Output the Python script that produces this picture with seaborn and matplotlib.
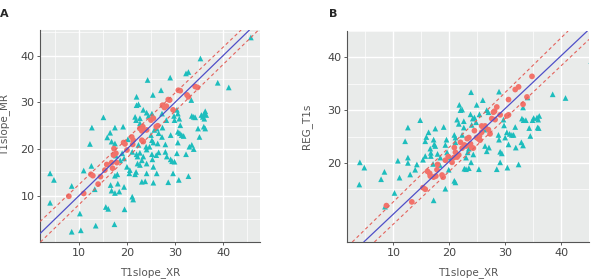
import pandas as pd
import numpy as np
import seaborn as sns
import matplotlib.pyplot as plt

# ---- panel A : T1slope_MR vs T1slope_XR ----
a_out_x = [4.0, 4.8, 4.0, 8.5, 8.5, 10.4, 10.2, 11.0, 12.3, 12.6, 12.7, 13.5, 13.3, 15.1, 15.6, 16.1,
           15.9, 16.5, 17.5, 16.8, 17.5, 16.6, 16.8, 17.5, 18.4, 18.1, 17.5, 18.0, 17.4, 17.7, 18.6,
           19.0, 19.4, 19.2, 19.4, 19.5, 20.2, 20.0, 20.6, 20.5, 21.1, 21.1, 21.3, 21.7, 21.9, 21.7,
           21.9, 22.0, 22.0, 22.4, 22.7, 22.7, 22.4, 22.0, 22.7, 22.2, 22.2, 22.7, 23.1, 23.4, 23.1,
           23.8, 24.1, 24.1, 24.1, 24.0, 24.7, 24.3, 23.4, 24.1, 24.5, 25.2, 25.4, 25.0, 25.2, 25.5,
           25.2, 25.3, 25.5, 25.5, 26.2, 26.1, 26.6, 26.4, 25.7, 26.2, 26.6, 27.1, 27.3, 27.6, 27.4,
           27.3, 28.0, 28.2, 28.0, 28.3, 28.6, 29.0, 29.1, 29.1, 29.4, 29.9, 29.6, 29.8, 29.9, 30.4,
           30.6, 30.9, 30.6, 31.0, 31.4, 31.8, 31.1, 30.6, 30.4, 30.8, 32.3, 32.8, 32.3, 32.8, 33.4,
           33.0, 33.5, 33.9, 33.5, 33.9, 34.2, 34.8, 35.1, 35.3, 35.5, 35.8, 36.1, 36.3, 36.5, 36.0,
           36.3, 36.1, 38.9, 41.2, 45.8]
a_out_y = [14.8, 13.4, 8.5, 12.1, 2.3, 2.6, 6.2, 15.4, 21.1, 16.4, 24.6, 3.6, 11.4, 26.8, 7.6, 7.2,
           22.5, 23.5, 24.6, 21.6, 21.2, 12.3, 11.1, 10.6, 10.9, 12.6, 14.3, 14.6, 3.9, 18.6, 17.6,
           19.1, 18.0, 24.8, 11.9, 7.1, 22.1, 16.2, 15.5, 14.8, 19.4, 9.8, 9.2, 14.6, 15.1, 26.9,
           26.2, 31.2, 29.4, 29.6, 26.6, 25.5, 20.9, 18.9, 19.2, 18.4, 16.9, 16.6, 17.6, 18.4, 13.0,
           13.1, 14.8, 16.9, 19.9, 20.5, 20.5, 34.8, 28.4, 27.8, 27.1, 27.6, 31.6, 23.0, 21.9, 21.4,
           18.9, 17.8, 16.2, 12.8, 14.8, 18.7, 19.3, 21.2, 24.1, 24.4, 23.4, 32.6, 27.6, 29.4, 24.6,
           22.6, 21.0, 26.2, 19.4, 18.4, 12.9, 35.3, 23.0, 17.8, 17.4, 17.3, 14.8, 27.1, 26.2, 28.4,
           27.6, 26.5, 23.7, 23.4, 23.0, 22.8, 25.1, 21.4, 19.1, 13.4, 18.9, 14.2, 36.2, 36.5, 30.5,
           20.5, 20.9, 20.0, 27.1, 26.9, 26.8, 24.4, 22.6, 39.4, 27.3, 26.9, 27.6, 28.1, 27.3, 24.8,
           24.4, 26.5, 34.2, 33.2, 43.9]
a_in_x = [7.9, 11.0, 12.5, 12.9, 14.0, 14.5, 15.4, 15.8, 16.8, 17.0, 17.9, 17.7, 17.2, 17.3, 19.3,
          19.6, 20.0, 21.0, 21.3, 21.2, 23.1, 23.4, 22.7, 23.3, 23.1, 24.1, 25.0, 25.5, 26.1, 26.4,
          27.4, 27.8, 28.2, 28.6, 28.9, 29.6, 30.7, 31.1, 32.5, 32.8, 34.2, 34.7]
a_in_y = [9.9, 10.5, 14.6, 14.3, 12.5, 14.1, 15.5, 16.7, 17.1, 15.9, 17.1, 19.1, 18.7, 20.1, 21.4,
          21.1, 19.8, 22.6, 21.9, 21.0, 21.9, 21.6, 24.4, 24.8, 23.9, 24.1, 26.2, 26.6, 24.8, 25.0,
          29.4, 28.9, 29.2, 30.6, 30.5, 28.4, 32.6, 32.5, 31.6, 31.2, 33.4, 33.2]

# ---- panel B : REG_T1s vs T1slope_XR ----
b_out_x = [3.9, 4.0, 4.8, 7.8, 8.4, 8.5, 10.2, 11.1, 10.8, 12.1, 12.6, 12.6, 12.6, 13.0, 13.9, 14.2,
           14.8, 15.3, 15.7, 15.7, 15.9, 16.3, 16.6, 16.7, 16.7, 17.1, 17.2, 17.3, 17.5, 17.2, 17.5,
           17.9, 18.3, 18.4, 19.0, 19.3, 19.5, 19.3, 19.6, 19.9, 20.2, 20.9, 21.1, 20.9, 21.1, 21.1,
           21.4, 21.7, 21.8, 22.0, 22.3, 22.6, 22.6, 22.3, 22.7, 23.0, 23.5, 23.0, 23.3, 23.5, 23.9,
           23.8, 24.2, 24.5, 24.0, 24.8, 24.9, 23.9, 24.3, 25.4, 25.3, 26.0, 26.3, 26.4, 26.7, 27.1,
           26.7, 27.0, 28.5, 28.9, 28.8, 29.1, 29.4, 29.1, 28.9, 29.7, 29.8, 30.0, 30.3, 30.6, 30.4,
           30.8, 31.2, 31.5, 31.8, 31.9, 32.4, 32.9, 33.2, 33.0, 33.3, 33.7, 33.2, 34.0, 34.3, 34.5,
           34.9, 35.1, 35.7, 35.9, 36.1, 35.8, 36.0, 38.5, 40.8, 45.4]
b_out_y = [15.9, 20.1, 19.1, 16.9, 18.3, 11.7, 14.3, 17.2, 20.4, 24.1, 26.7, 21.0, 20.0, 17.8, 18.7,
           19.7, 28.1, 20.6, 21.3, 24.1, 24.9, 25.8, 22.7, 21.9, 21.3, 19.8, 24.4, 23.5, 26.5, 12.9,
           23.2, 21.7, 19.6, 21.0, 26.8, 23.4, 24.4, 15.1, 22.0, 18.7, 21.0, 16.6, 16.3, 25.3, 24.8,
           23.9, 28.2, 27.4, 31.0, 30.0, 30.1, 27.9, 26.7, 25.3, 18.9, 18.8, 19.0, 21.0, 22.0, 22.7,
           33.4, 29.2, 28.4, 28.6, 27.2, 27.7, 31.0, 20.1, 21.6, 29.2, 18.8, 31.9, 26.3, 23.2, 22.2,
           22.9, 30.0, 29.6, 18.8, 33.5, 25.3, 22.1, 21.8, 20.1, 24.4, 28.2, 27.1, 24.8, 25.8, 23.5,
           19.1, 25.5, 25.3, 25.3, 26.8, 22.9, 19.7, 23.9, 23.3, 28.4, 28.1, 28.1, 30.5, 32.4, 26.6,
           25.1, 28.1, 28.5, 28.6, 28.2, 28.9, 26.7, 26.6, 33.0, 32.3, 39.3]
b_in_x = [8.75, 13.3, 15.3, 15.7, 16.1, 16.6, 16.5, 17.2, 17.6, 17.8, 18.7, 18.9, 17.9, 19.3, 19.8,
          20.5, 20.8, 21.1, 21.4, 21.7, 20.9, 22.0, 22.3, 22.7, 23.0, 23.2, 23.5, 23.8, 24.0, 24.3,
          24.5, 24.9, 25.2, 25.4, 25.5, 25.8, 26.1, 26.4, 25.8, 27.0, 27.3, 27.6, 27.9, 28.2, 28.1,
          28.5, 29.1, 30.3, 30.6, 30.6, 31.8, 32.4, 33.2, 33.9, 34.8]
b_in_y = [11.9, 12.6, 15.3, 15.0, 18.4, 17.5, 18.0, 17.3, 17.5, 18.7, 17.7, 17.3, 19.7, 20.5, 21.2,
          20.1, 21.0, 22.0, 21.1, 21.5, 22.9, 23.9, 22.8, 23.4, 23.2, 24.6, 24.8, 23.6, 22.9, 22.8,
          26.1, 24.8, 24.6, 25.1, 24.3, 25.8, 26.7, 27.0, 27.0, 26.3, 25.5, 28.4, 29.6, 28.2, 29.8,
          30.6, 29.1, 28.9, 29.1, 32.0, 33.9, 34.4, 31.1, 32.5, 36.4]

# reference lines: (intercept, slope) for identity and the two limits
a_lines = {'mid': (0.0, 1.0), 'upper': (2.6, 0.98), 'lower': (-1.9, 1.0)}
b_lines = {'mid': (0.3, 1.0), 'upper': (2.26, 1.036), 'lower': (-1.6, 1.0)}

sns.set_theme(style='darkgrid', rc={
    'axes.facecolor': '#e9ebea',
    'grid.color': 'white',
    'axes.edgecolor': '#444444',
    'xtick.color': '#444444',
    'ytick.color': '#444444',
    'xtick.labelcolor': '#444444',
    'ytick.labelcolor': '#444444',
    'axes.labelcolor': '#555555',
})
plt.rcParams['font.family'] = ['DejaVu Sans']

teal = '#1dbdbd'
red = '#f2726a'


def make_df(out_x, out_y, in_x, in_y):
    return pd.DataFrame({
        'x': out_x + in_x,
        'y': out_y + in_y,
        'grp': ['out'] * len(out_x) + ['in'] * len(in_x),
    })


def panel(ax, df, lines, xlim, ylim, yticks, ylabel):
    sns.scatterplot(data=df, x='x', y='y', hue='grp', style='grp',
                    markers={'out': '^', 'in': 'o'},
                    palette={'out': teal, 'in': red},
                    s=17, linewidth=0, legend=False, ax=ax, zorder=3)
    b0, m0 = lines['mid']
    ax.axline((0, b0), slope=m0, color='#4f4fc8', lw=0.9, zorder=4)
    for k in ('upper', 'lower'):
        b, m = lines[k]
        ax.axline((0, b), slope=m, color='#e4625c', lw=0.8, ls=(0, (3, 2.5)), zorder=4)
    ax.set_xlim(*xlim)
    ax.set_ylim(*ylim)
    ax.set_xticks([10, 20, 30, 40])
    ax.set_yticks(yticks)
    ax.set_xticks(np.arange(5, 50, 10), minor=True)
    ax.set_yticks(np.arange(5, 50, 10), minor=True)
    ax.grid(which='major', color='white', lw=1.0)
    ax.grid(which='minor', color='white', lw=0.5)
    for s in ('top', 'right'):
        ax.spines[s].set_visible(False)
    for s in ('left', 'bottom'):
        ax.spines[s].set_visible(True)
        ax.spines[s].set_linewidth(0.8)
        ax.spines[s].set_color('#555555')
    ax.tick_params(which='major', length=2.5, width=0.6, labelsize=8, pad=1.5,
                   bottom=True, left=True)
    ax.tick_params(which='minor', length=0)
    ax.set_xlabel('T1slope_XR', fontsize=7.5)
    ax.set_ylabel(ylabel, fontsize=7.5)


fig = plt.figure(figsize=(6.03, 2.80), dpi=100)
ax1 = fig.add_axes([40 / 603, 1 - 242 / 280, 220 / 603, 212 / 280])
ax2 = fig.add_axes([347 / 603, 1 - 242 / 280, 242 / 603, 211 / 280])

panel(ax1, make_df(a_out_x, a_out_y, a_in_x, a_in_y), a_lines,
      (1.9, 47.7), (0.1, 45.5), [10, 20, 30, 40], 'T1slope_MR')
panel(ax2, make_df(b_out_x, b_out_y, b_in_x, b_in_y), b_lines,
      (1.7, 45.0), (10.4, 40.2), [20, 30, 40], 'REG_T1s')

ax1.xaxis.set_label_coords(0.5, -0.118)
ax2.xaxis.set_label_coords(0.5, -0.118)
ax1.yaxis.set_label_coords(-0.135, 0.55)
ax2.yaxis.set_label_coords(-0.145, 0.55)

fig.text(0.0, 1 - 14 / 280, 'A', fontsize=8, fontweight='bold', va='center', ha='left')
fig.text(329 / 603, 1 - 14 / 280, 'B', fontsize=8, fontweight='bold', va='center', ha='left')

fig.savefig('out.png', dpi=100)
